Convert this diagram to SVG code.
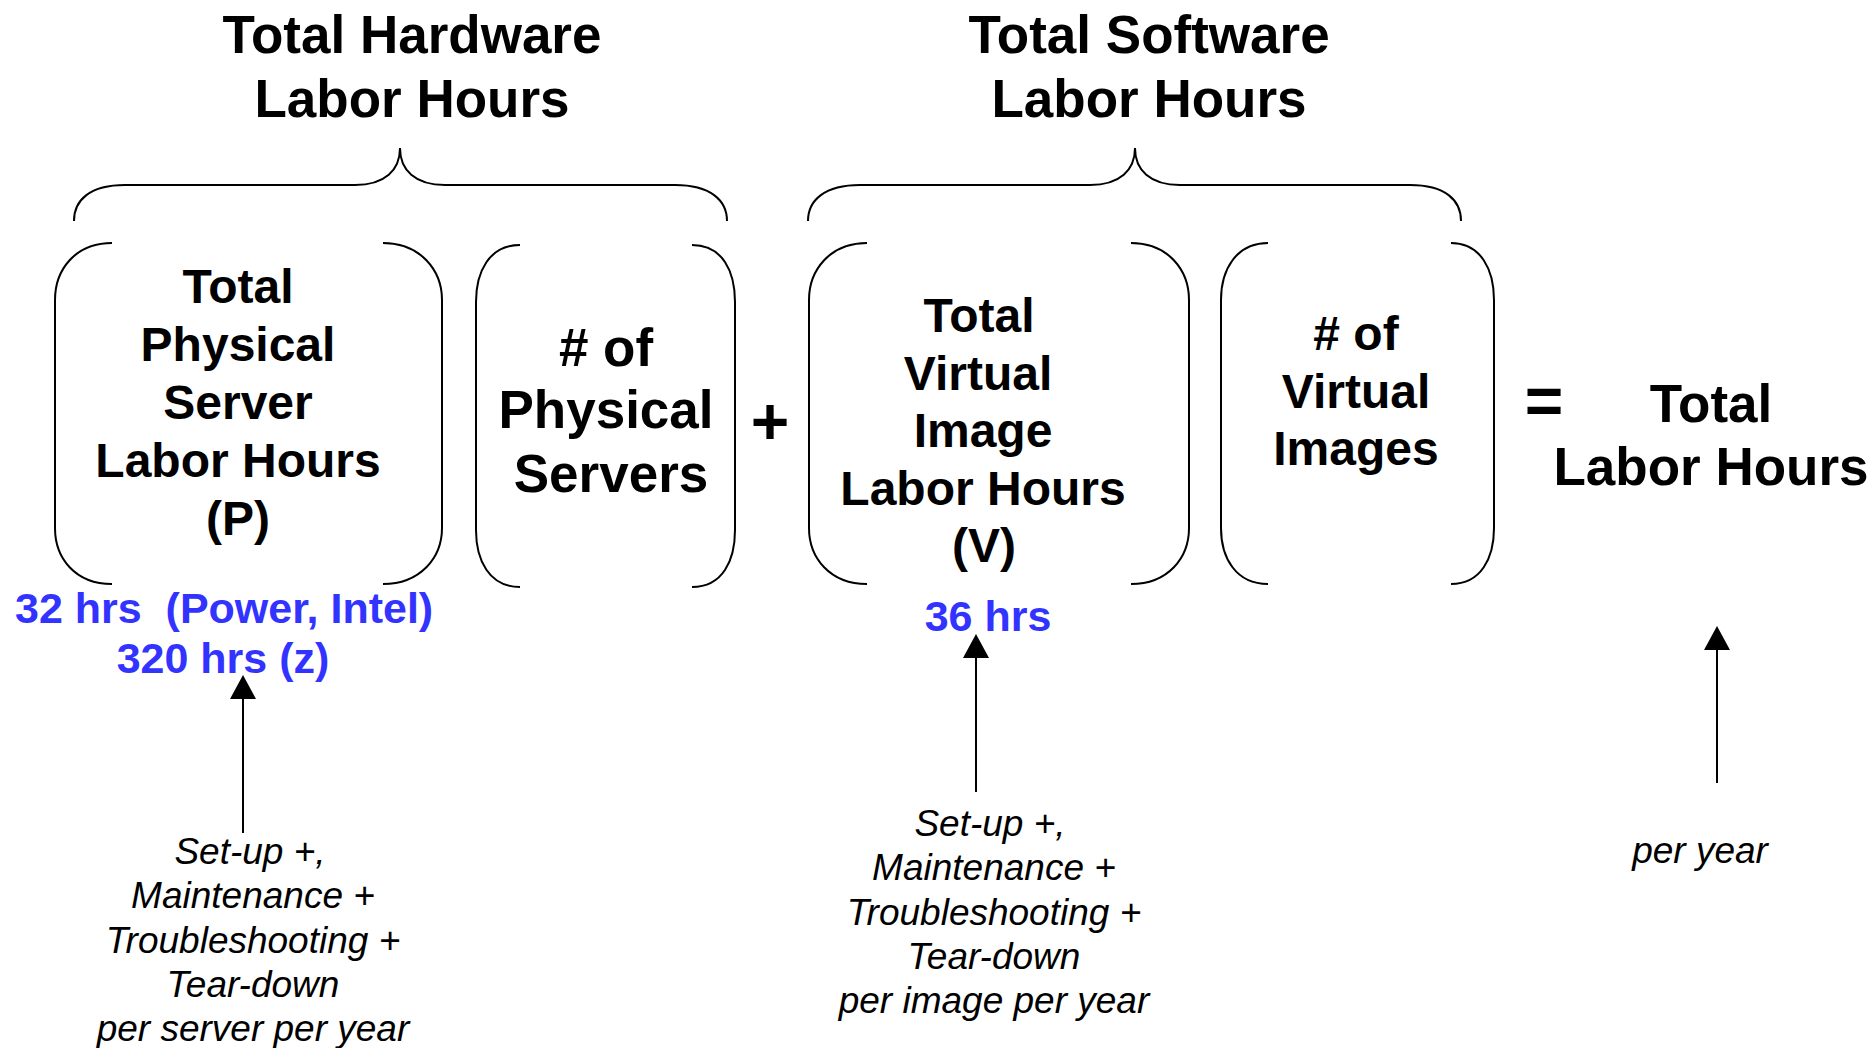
<svg xmlns="http://www.w3.org/2000/svg" width="1875" height="1048" viewBox="0 0 1875 1048">
<defs>
<style>
.bg{fill:#ffffff}
.stroke{fill:none;stroke:#000;stroke-width:2}
.h{font-family:"Liberation Sans",Arial,sans-serif;font-weight:bold;font-size:53px;fill:#000;text-anchor:middle}
.b48{font-family:"Liberation Sans",Arial,sans-serif;font-weight:bold;font-size:48px;fill:#000;text-anchor:middle}
.b53{font-family:"Liberation Sans",Arial,sans-serif;font-weight:bold;font-size:53px;fill:#000;text-anchor:middle}
.op{font-family:"Liberation Sans",Arial,sans-serif;font-weight:bold;font-size:66px;fill:#000;text-anchor:middle}
.blue{font-family:"Liberation Sans",Arial,sans-serif;font-weight:bold;font-size:43px;fill:#3333FF}
.it{font-family:"Liberation Sans",Arial,sans-serif;font-style:italic;font-size:37px;fill:#000;text-anchor:middle}
</style>
<marker id="ah" markerUnits="userSpaceOnUse" markerWidth="26" markerHeight="26" refX="0" refY="13" orient="auto" viewBox="0 0 26 26">
<path d="M0,0 L24,13 L0,26 z" fill="#000"/>
</marker>
</defs>
<rect class="bg" x="0" y="0" width="1875" height="1048"/>

<g id="heading-hardware">
<text class="h" x="412" y="53">Total Hardware</text>
<text class="h" x="412" y="117">Labor Hours</text>
<path class="stroke" d="M74 221 C74 200 90 185 125 185 L355 185 C385 185 400 170 400 148 C400 170 415 185 445 185 L675 185 C710 185 727 200 727 221"/>
</g>

<g id="heading-software">
<text class="h" x="1149" y="53">Total Software</text>
<text class="h" x="1149" y="117">Labor Hours</text>
<path class="stroke" d="M808 221 C808 200 825 185 860 185 L1090 185 C1120 185 1135 170 1135 148 C1135 170 1150 185 1180 185 L1410 185 C1445 185 1461 200 1461 221"/>
</g>

<g id="node-physical-hours">
<path class="stroke" d="M112 243 C75 243 55 270 55 300 L55 528 C55 558 75 584 112 584"/>
<path class="stroke" d="M383 243 C420 243 442 270 442 300 L442 528 C442 558 420 584 383 584"/>
<text class="b48" x="238" y="303">Total</text>
<text class="b48" x="238" y="361">Physical</text>
<text class="b48" x="238" y="419">Server</text>
<text class="b48" x="238" y="477">Labor Hours</text>
<text class="b48" x="238" y="535">(P)</text>
</g>

<g id="node-physical-count">
<path class="stroke" d="M520 245 C489 245 476 272 476 302 L476 530 C476 560 489 587 520 587"/>
<path class="stroke" d="M692 245 C723 245 735 272 735 302 L735 530 C735 560 723 587 692 587"/>
<text class="b53" x="606" y="366"># of</text>
<text class="b53" x="606" y="428">Physical</text>
<text class="b53" x="611" y="492">Servers</text>
</g>

<g id="op-plus">
<text class="op" x="770" y="444">+</text>
</g>

<g id="node-virtual-hours">
<path class="stroke" d="M867 243 C830 243 809 270 809 300 L809 528 C809 558 830 584 867 584"/>
<path class="stroke" d="M1131 243 C1168 243 1189 270 1189 300 L1189 528 C1189 558 1168 584 1131 584"/>
<text class="b48" x="979" y="332">Total</text>
<text class="b48" x="978" y="390">Virtual</text>
<text class="b48" x="983" y="447">Image</text>
<text class="b48" x="983" y="505">Labor Hours</text>
<text class="b48" x="984" y="562">(V)</text>
</g>

<g id="node-virtual-count">
<path class="stroke" d="M1268 243 C1236 243 1221 270 1221 300 L1221 528 C1221 558 1236 584 1268 584"/>
<path class="stroke" d="M1451 243 C1481 243 1494 270 1494 300 L1494 528 C1494 558 1481 584 1451 584"/>
<text class="b48" x="1356" y="350"># of</text>
<text class="b48" x="1356" y="408">Virtual</text>
<text class="b48" x="1356" y="465">Images</text>
</g>

<g id="op-equals">
<text class="op" x="1544" y="424">=</text>
</g>

<g id="node-total">
<text class="b53" x="1711" y="422">Total</text>
<text class="b53" x="1711" y="485">Labor Hours</text>
</g>

<g id="label-physical-hours">
<text class="blue" x="15" y="623" xml:space="preserve">32 hrs  (Power, Intel)</text>
<text class="blue" x="223" y="673" text-anchor="middle">320 hrs (z)</text>
</g>

<g id="label-virtual-hours">
<text class="blue" x="988" y="631" text-anchor="middle">36 hrs</text>
</g>

<g id="note-physical">
<text class="it" x="250" y="864">Set-up +,</text>
<text class="it" x="253" y="908">Maintenance +</text>
<text class="it" x="253" y="953">Troubleshooting +</text>
<text class="it" x="253" y="997">Tear-down</text>
<text class="it" x="253" y="1041">per server per year</text>
</g>

<g id="note-virtual">
<text class="it" x="990" y="836">Set-up +,</text>
<text class="it" x="994" y="880">Maintenance +</text>
<text class="it" x="994" y="925">Troubleshooting +</text>
<text class="it" x="994" y="969">Tear-down</text>
<text class="it" x="994" y="1013">per image per year</text>
</g>

<g id="note-total">
<text class="it" x="1700" y="863">per year</text>
</g>

<g id="connectors">
<line class="stroke" x1="243" y1="833" x2="243" y2="699" marker-end="url(#ah)"/>
<line class="stroke" x1="976" y1="792" x2="976" y2="658" marker-end="url(#ah)"/>
<line class="stroke" x1="1717" y1="783" x2="1717" y2="650" marker-end="url(#ah)"/>
</g>
</svg>
